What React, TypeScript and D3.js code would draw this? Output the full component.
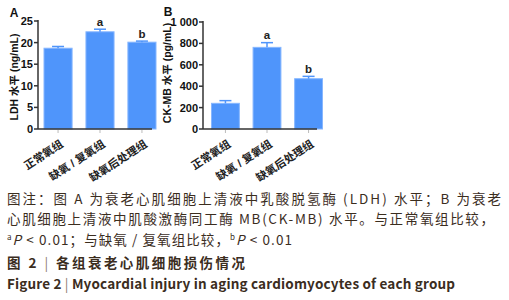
import React from 'react';
import * as d3 from 'd3';

const groups = ['正常氧组', '缺氧 / 复氧组', '缺氧后处理组'];
const ldhMean = [18.7, 22.5, 20.1];
const ldhErr = [0.4, 0.6, 0.25];
const ldhTicks = [0, 5, 10, 15, 20, 25];
const ldhSig = ['', 'a', 'b'];
const ckMean = [240, 763, 470];
const ckErr = [25, 44, 22];
const ckTicks = [0, 200, 400, 600, 800, 1000];
const ckSig = ['', 'a', 'b'];

const captionLines = [
  '图注：图 A 为衰老心肌细胞上清液中乳酸脱氢酶 (LDH) 水平；B 为衰老',
  '心肌细胞上清液中肌酸激酶同工酶 MB(CK-MB) 水平。与正常氧组比较，',
];

const BAR = '#4f95fb';
const BAR_EDGE = '#86b6ff';
const CHART_FONT = "'Liberation Sans', 'Noto Sans CJK SC', sans-serif";
const CAP_FONT = "'Noto Sans CJK SC', sans-serif";
const CAP_COLOR = '#3b2d1e';

const fmtSpace = d3.formatLocale({ decimal: '.', thousands: ' ', grouping: [3], currency: ['', ''] }).format(',d');

type PanelProps = {
  letter: string;
  letterX: number;
  letterY: number;
  title: string;
  titleX: number;
  titleY: number;
  means: number[];
  errs: number[];
  ticks: number[];
  sig: string[];
  axisX: number;
  axisEnd: number;
  band: [number, number];
  yRange: [number, number];
};

function Panel(p: PanelProps) {
  const y = d3.scaleLinear().domain([p.ticks[0], p.ticks[p.ticks.length - 1]]).range(p.yRange);
  const x = d3.scaleBand<string>().domain(groups).range(p.band).paddingInner(0.33).paddingOuter(0);
  const bw = x.bandwidth();
  const y0 = y(0);
  return (
    <g fontFamily={CHART_FONT}>
      <text x={p.letterX} y={p.letterY} fontSize={12} fontWeight="bold" textAnchor="middle" fill="#111">{p.letter}</text>
      <text transform={`translate(${p.titleX},${p.titleY}) rotate(-90)`} fontSize={10.5} fontWeight="bold" textAnchor="middle" fill="#111">{p.title}</text>
      {groups.map((g, i) => {
        const x0 = x(g)!;
        const cx = x0 + bw / 2;
        const top = y(p.means[i]);
        const et = y(p.means[i] + p.errs[i]);
        return (
          <g key={g}>
            <rect x={x0} y={top} width={bw} height={y0 - top} fill={BAR} stroke={BAR_EDGE} strokeWidth={1} />
            <line x1={cx} x2={cx} y1={top} y2={et} stroke={BAR} strokeWidth={1.5} />
            <line x1={cx - 6} x2={cx + 6} y1={et} y2={et} stroke={BAR} strokeWidth={1.5} />
            {p.sig[i] && (
              <text x={cx} y={et - 3.5} fontSize={11.5} fontWeight="bold" textAnchor="middle" fill="#222">{p.sig[i]}</text>
            )}
            <line x1={cx} x2={cx} y1={y0 + 1} y2={y0 + 4} stroke="#bbb" strokeWidth={1} />
            <text transform={`translate(${cx + 6},${y0 + 17}) rotate(-33)`} fontSize={11} fontWeight="bold" textAnchor="end" fill="#222">{g}</text>
          </g>
        );
      })}
      <line x1={p.axisX} x2={p.axisX} y1={y(p.ticks[p.ticks.length - 1]) - 1} y2={y0} stroke="#333" strokeWidth={1.5} />
      <line x1={p.axisX} x2={p.axisEnd} y1={y0} y2={y0} stroke="#333" strokeWidth={1.5} />
      {p.ticks.map((t) => (
        <g key={t}>
          <line x1={p.axisX - 4} x2={p.axisX} y1={y(t)} y2={y(t)} stroke="#333" strokeWidth={1.5} />
          <text x={p.axisX - 5} y={y(t)} dy="0.36em" fontSize={11} fontWeight="bold" textAnchor="end" fill="#111">{fmtSpace(t)}</text>
        </g>
      ))}
    </g>
  );
}

export default function App() {
  return (
    <svg width={509} height={300} style={{ position: 'absolute', left: 0, top: 0, background: '#fff' }}>
      <rect width={509} height={300} fill="#fff" />
      <Panel letter="A" letterX={14} letterY={17} title="LDH 水平 (ng/mL)" titleX={18} titleY={77}
        means={ldhMean} errs={ldhErr} ticks={ldhTicks} sig={ldhSig}
        axisX={38} axisEnd={152} band={[44, 156]} yRange={[129, 21]} />
      <Panel letter="B" letterX={168} letterY={16} title="CK-MB 水平 (pg/mL)" titleX={171} titleY={73}
        means={ckMean} errs={ckErr} ticks={ckTicks} sig={ckSig}
        axisX={203} axisEnd={317} band={[211.5, 322.5]} yRange={[129, 22]} />
      <g fontFamily={CAP_FONT} fill={CAP_COLOR} fontSize={13.5}>
        <text x={7} y={203.5} textLength={494} lengthAdjust="spacing">{captionLines[0]}</text>
        <text x={7} y={224} textLength={487} lengthAdjust="spacing">{captionLines[1]}</text>
        <text x={7} y={245} textLength={285} lengthAdjust="spacing">
          <tspan fontSize={8} dy={-5}>a</tspan>
          <tspan fontStyle="italic" dy={5}>P</tspan>
          <tspan> &lt; 0.01；与缺氧 / 复氧组比较，</tspan>
          <tspan fontSize={8} dy={-5}>b</tspan>
          <tspan fontStyle="italic" dy={5}>P</tspan>
          <tspan> &lt; 0.01</tspan>
        </text>
        <text x={7} y={267.5} fontWeight="bold" textLength={238} lengthAdjust="spacing">
          <tspan>图 2 </tspan>
          <tspan fill="#8a7a6a" fontWeight="normal"> | </tspan>
          <tspan> 各组衰老心肌细胞损伤情况</tspan>
        </text>
        <text x={7} y={289} fontWeight="bold" textLength={448} lengthAdjust="spacing">
          <tspan>Figure 2 </tspan>
          <tspan fill="#8a7a6a" fontWeight="normal"> | </tspan>
          <tspan> Myocardial injury in aging cardiomyocytes of each group</tspan>
        </text>
      </g>
    </svg>
  );
}
